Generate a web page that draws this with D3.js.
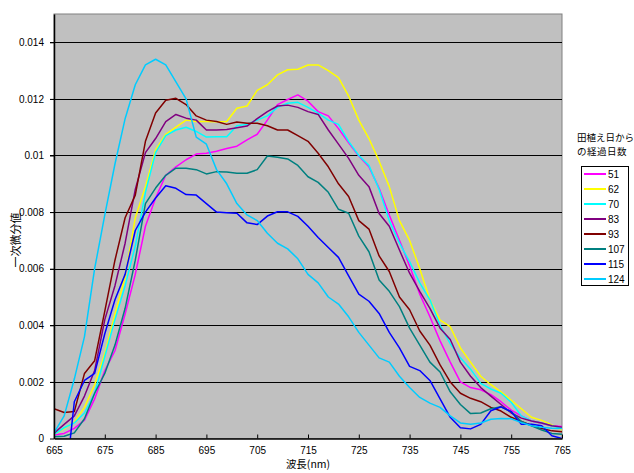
<!DOCTYPE html>
<meta charset="utf-8">
<script src="https://d3js.org/d3.v7.min.js"></script>
<style>
  body { margin: 0; background: #fff; }
  text { font-family: "Liberation Sans", Arial, sans-serif; }
  .jp { font-family: "Noto Sans CJK JP", sans-serif; }
</style>
<body>
<svg id="chart" width="634" height="473"></svg>
<script>
// wavelength grid (nm), sampled every 2 nm
const wavelengths = d3.range(665, 766, 2);

// first derivative values, in units of 0.001
const s51 = [0.12,0.18,0.36,0.65,1.4,2.4,3.1,4.4,5.8,7.5,8.5,9.3,9.6,9.85,10.05,10.08,10.15,10.25,10.33,10.55,10.75,11.25,11.8,11.98,12.14,11.92,11.55,11.4,10.95,10.45,9.98,9.6,8.84,7.9,7.0,6.1,5.1,4.3,3.45,2.7,2.0,1.8,1.72,1.55,1.3,1.0,0.8,0.62,0.54,0.45,0.42];
const s62 = [0.15,0.35,0.58,1.1,1.9,3.0,4.4,5.7,7.8,8.9,10.2,10.75,11.0,11.25,11.2,11.2,11.19,11.2,11.67,11.75,12.3,12.5,12.85,13.03,13.05,13.2,13.2,13.0,12.75,12.1,11.25,10.6,9.8,8.9,7.7,7.0,6.0,4.9,4.18,3.95,3.2,2.7,2.2,1.9,1.65,1.35,1.05,0.75,0.64,0.48,0.3];
const s70 = [0.15,0.38,0.55,0.9,1.6,2.9,4.2,5.4,6.8,8.7,10.1,10.7,10.9,11.0,10.85,10.65,10.66,10.66,11.05,11.1,11.25,11.4,11.7,11.85,11.88,11.7,11.5,11.25,11.1,10.5,10.0,9.65,8.8,7.7,6.9,6.25,5.5,4.9,4.0,3.35,2.85,2.45,1.95,1.75,1.6,1.28,0.8,0.62,0.55,0.45,0.35];
const s83 = [0.19,0.5,0.8,1.5,2.4,4.2,5.4,6.9,8.8,10.1,10.6,11.2,11.45,11.32,11.25,10.9,10.9,10.92,10.98,11.04,11.3,11.55,11.75,11.78,11.7,11.55,11.45,10.9,10.4,9.9,9.3,8.9,7.95,7.5,6.66,5.84,5.2,4.6,3.9,3.5,2.7,2.2,1.8,1.5,1.2,0.9,0.72,0.62,0.55,0.45,0.4];
const s93 = [1.05,0.92,0.95,2.3,2.75,4.5,6.3,7.8,8.6,10.5,11.5,11.95,12.02,11.8,11.4,11.25,11.2,11.1,11.18,11.14,11.14,11.05,10.9,10.9,10.7,10.5,10.08,9.6,9.0,8.55,7.7,7.4,6.45,5.9,5.0,4.55,3.8,3.3,2.6,2.0,1.6,1.42,1.3,1.1,0.97,0.75,0.6,0.46,0.35,0.27,0.24];
const s107 = [0.06,0.08,0.2,0.7,1.6,2.3,3.3,4.6,6.3,8.3,8.85,9.3,9.55,9.55,9.5,9.35,9.43,9.42,9.37,9.37,9.5,9.98,9.94,9.88,9.65,9.25,9.05,8.7,8.1,7.96,7.15,6.6,5.6,5.2,4.66,3.9,3.3,2.7,2.35,1.65,1.2,0.88,0.9,1.05,1.12,0.95,0.6,0.45,0.3,0.18,0.15];
const s115 = [-0.8,-2.0,1.3,2.05,2.3,3.7,4.9,5.8,7.35,8.0,8.5,8.93,8.84,8.62,8.6,8.3,8.0,7.98,7.96,7.62,7.56,7.86,8.01,8.01,7.85,7.5,7.1,6.75,6.4,5.75,5.1,4.85,4.42,3.75,3.2,2.55,2.4,2.05,1.4,0.75,0.38,0.34,0.5,0.98,1.12,0.95,0.5,0.5,0.45,0.1,0.0];
const s124 = [0.2,0.8,2.1,3.6,6.0,7.9,9.7,11.3,12.5,13.2,13.4,13.2,12.6,12.0,10.65,10.4,9.5,9.0,8.3,7.9,7.7,7.25,6.9,6.7,6.35,5.8,5.5,5.0,4.75,4.3,3.75,3.3,2.85,2.7,2.2,1.8,1.45,1.25,1.1,0.8,0.55,0.5,0.55,0.68,0.71,0.7,0.56,0.45,0.4,0.36,0.35];

const seriesNames = ["51","62","70","83","93","107","115","124"];
const seriesValues = [s51, s62, s70, s83, s93, s107, s115, s124];
const seriesColors = ["#FF00FF","#FFFF00","#00FFFF","#800080","#800000","#008080","#0000FF","#00CCFF"];

const xTicks = d3.range(665, 766, 10);
const yTicks = [0, 0.002, 0.004, 0.006, 0.008, 0.01, 0.012, 0.014];

const svg = d3.select("#chart");
const plotL = 54, plotR = 562, plotT = 14, plotB = 438.5;

const x = d3.scaleLinear().domain([665, 765]).range([plotL, plotR]);
const y = d3.scaleLinear().domain([0, 0.015]).range([plotB, plotT]);

// plot area
svg.append("rect")
    .attr("x", plotL).attr("y", plotT)
    .attr("width", plotR - plotL).attr("height", plotB - plotT)
    .attr("fill", "#C0C0C0")
    .attr("stroke", "#808080");

// gridlines + y ticks
svg.append("g")
    .selectAll("line")
    .data(yTicks.filter(d => d > 0))
    .join("line")
        .attr("x1", plotL - 4).attr("x2", plotR)
        .attr("y1", d => Math.round(y(d)) + 0.5)
        .attr("y2", d => Math.round(y(d)) + 0.5)
        .attr("stroke", "#000");

svg.append("defs").append("clipPath").attr("id", "clip")
    .append("rect")
    .attr("x", plotL).attr("y", plotT)
    .attr("width", plotR - plotL).attr("height", plotB - plotT);

// lines
const line = d3.line()
    .x((d, i) => x(wavelengths[i]))
    .y(d => y(d / 1000));

svg.append("g")
    .attr("clip-path", "url(#clip)")
    .selectAll("path")
    .data(seriesValues)
    .join("path")
        .attr("fill", "none")
        .attr("stroke", (d, i) => seriesColors[i])
        .attr("stroke-width", 1.5)
        .attr("stroke-linejoin", "round")
        .attr("d", line);

// axes
const xAxis = svg.append("g")
    .attr("transform", `translate(0,${plotB})`)
    .call(d3.axisBottom(x).tickValues(xTicks).tickSizeInner(-4).tickSizeOuter(0).tickPadding(8).tickFormat(d3.format("d")));
xAxis.select(".domain").attr("stroke", "#000").attr("stroke-width", 1.5);
xAxis.selectAll("text").attr("font-size", 10).attr("fill", "#000");

const yAxis = svg.append("g")
    .attr("transform", `translate(${plotL},0)`)
    .call(d3.axisLeft(y).tickValues(yTicks).tickSize(4).tickSizeOuter(0).tickPadding(6).tickFormat(d => d === 0 ? "0" : String(+d.toFixed(3))));
yAxis.select(".domain").attr("stroke", "#000").attr("stroke-width", 1.5);
yAxis.selectAll("text").attr("font-size", 10).attr("fill", "#000");

// axis titles
svg.append("text")
    .attr("class", "jp")
    .attr("x", 308).attr("y", 468)
    .attr("text-anchor", "middle")
    .attr("font-size", 10.5)
    .text("波長(nm)");

svg.append("text")
    .attr("class", "jp")
    .attr("transform", "translate(20,240) rotate(-90)")
    .attr("text-anchor", "middle")
    .attr("font-size", 11)
    .text("一次微分値");

// legend
svg.append("text").attr("class", "jp")
    .attr("x", 577).attr("y", 141).attr("font-size", 9.5)
    .text("田植え日から");
svg.append("text").attr("class", "jp")
    .attr("x", 577).attr("y", 155).attr("font-size", 9.5)
    .attr("letter-spacing", 0.5)
    .text("の経過日数");

const legend = svg.append("g");
legend.append("rect")
    .attr("x", 581.5).attr("y", 166.5)
    .attr("width", 47).attr("height", 119)
    .attr("fill", "#fff").attr("stroke", "#000");

const items = legend.selectAll("g")
    .data(seriesNames)
    .join("g")
        .attr("transform", (d, i) => `translate(0,${174 + i * 15})`);
items.append("line")
    .attr("x1", 584).attr("x2", 606)
    .attr("stroke", (d, i) => seriesColors[i])
    .attr("stroke-width", 2);
items.append("text")
    .attr("x", 608).attr("dy", "0.35em")
    .attr("font-size", 10)
    .text(d => d);
</script>
</body>
